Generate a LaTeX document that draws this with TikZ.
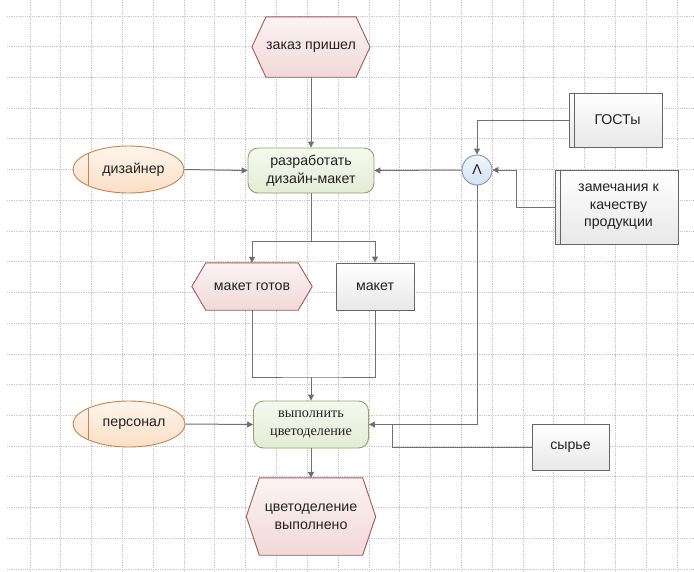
\documentclass[tikz,border=0pt]{standalone}
\usepackage{fontspec}
\setmainfont{Liberation Sans}
\newfontfamily\serifru{Liberation Serif}
\usetikzlibrary{arrows.meta,calc,shapes.geometric}
\pgfdeclarelayer{gridlayer}
\pgfdeclarelayer{bg}
\pgfsetlayers{gridlayer,bg,main}
\definecolor{gridc}{HTML}{C8C8C8}
\definecolor{linec}{HTML}{707070}
\definecolor{evtop}{HTML}{FCF3F3}
\definecolor{evbot}{HTML}{F2D8D8}
\definecolor{evdraw}{HTML}{A05A5A}
\definecolor{fntop}{HTML}{F6F9EF}
\definecolor{fnbot}{HTML}{E3ECD4}
\definecolor{fndraw}{HTML}{8FA46C}
\definecolor{ortop}{HTML}{FEF5EC}
\definecolor{orbot}{HTML}{FADFC6}
\definecolor{ordraw}{HTML}{C8844A}
\definecolor{intop}{HTML}{FFFFFF}
\definecolor{inbot}{HTML}{E8E8E8}
\definecolor{indraw}{HTML}{666666}
\definecolor{cirtop}{HTML}{F0F5FB}
\definecolor{cirbot}{HTML}{D5E1F1}
\definecolor{cirdraw}{HTML}{7C95B5}
\definecolor{txt}{HTML}{222222}
\begin{document}
\begin{tikzpicture}[x=1pt,y=-1pt,
  font=\fontsize{14.2}{17.5}\selectfont, text=txt,
  gridline/.style={draw=gridc, line width=0.8pt, densely dotted},
  conn/.style={draw=linec, line width=1pt},
  arr/.style={conn, -{Triangle[length=6pt,width=6pt]}},
  evtext/.style={rectangle, inner sep=0pt, align=center},
  evshape/.style={draw=evdraw, line width=0.9pt, top color=evtop, bottom color=evbot},
  fnbox/.style={rectangle, rounded corners=10pt, draw=fndraw, line width=0.9pt, top color=fntop, bottom color=fnbot, align=center, inner sep=0pt},
  orgunit/.style={ellipse, draw=ordraw, line width=0.9pt, top color=ortop, bottom color=orbot, inner sep=0pt,
    path picture={\draw[draw=ordraw, line width=1pt] ([xshift=15pt]path picture bounding box.north west) -- ([xshift=15pt]path picture bounding box.south west);}},
  infobox/.style={rectangle, draw=indraw, line width=0.9pt, top color=intop, bottom color=inbot, align=center, inner sep=0pt},
  docbox/.style={infobox,
    path picture={\draw[draw=indraw, line width=0.9pt] ([xshift=5.5pt]path picture bounding box.north west) -- ([xshift=5.5pt]path picture bounding box.south west);}},
  andop/.style={circle, draw=cirdraw, line width=0.9pt, top color=cirtop, bottom color=cirbot, minimum size=30pt, inner sep=0pt}
]
\useasboundingbox (0,0) rectangle (694,571);
\begin{pgfonlayer}{gridlayer}
\fill[white] (0,0) rectangle (694,571);
\foreach \i in {0,...,21} \draw[gridline] ({30+30.81*\i},0) -- ({30+30.81*\i},571);
\foreach \j in {0,...,18} \draw[gridline] (7,{16+30.72*\j}) -- (694,{16+30.72*\j});
\end{pgfonlayer}

% events
\node[evtext, minimum width=88pt, minimum height=60pt] (zakaz) at (311,47) {заказ пришел};
\node[evtext, minimum width=92pt, minimum height=47pt] (maketg) at (252,286.5) {макет готов};
\node[evtext, minimum width=103pt, minimum height=77pt] (done) at (311,516.5) {цветоделение\\выполнено};
\begin{pgfonlayer}{bg}
\foreach \n/\d in {zakaz/14, maketg/14, done/13}
  \draw[evshape] (\n.north west) -- (\n.north east) -- ($(\n.east)+(\d,0)$) -- (\n.south east) -- (\n.south west) -- ($(\n.west)-(\d,0)$) -- cycle;
\end{pgfonlayer}

% functions
\node[fnbox, minimum width=126pt, minimum height=45pt] (razr) at (311,170.5) {разработать\\дизайн-макет};
\node[fnbox, minimum width=115pt, minimum height=47pt, font=\serifru\fontsize{14.2}{17.5}\selectfont] (vyp) at (311,424.5) {выполнить\\цветоделение};

% org units
\node[orgunit, minimum width=111pt, minimum height=47pt] (diz) at (128.5,169.5) {\hspace*{10pt}дизайнер};
\node[orgunit, minimum width=112pt, minimum height=46pt] (pers) at (129,424) {\hspace*{10pt}персонал};

% information
\node[docbox, minimum width=93pt, minimum height=54pt] (gost) at (615.5,120) {\hspace*{4pt}ГОСТы};
\node[docbox, minimum width=123pt, minimum height=74pt] (zam) at (616.5,207) {\hspace*{4pt}замечания к\\\hspace*{4pt}качеству\\\hspace*{4pt}продукции};
\node[infobox, minimum width=78pt, minimum height=47pt] (maket) at (375,286.5) {макет};
\node[infobox, minimum width=77pt, minimum height=46pt] (syr) at (570.5,447) {сырье};

% operator
\node[andop] (and) at (477,170) {Λ};

% helper coordinates
\coordinate (split) at (311,241);
\coordinate (join) at (311,377);
\coordinate (zb) at (516,207);
\coordinate (sb) at (392,447);

% connectors
\draw[arr] (zakaz.south) -- (razr.north);
\draw[arr] (diz.east) -- (razr.west);
\draw[arr] (gost.west) -| (and.north);
\draw[arr] (zam.west) -- (zb) |- (and.east);
\draw[arr] (and.west) -- (razr.east);
\draw[conn] (razr.south) -- (split);
\draw[arr] (split) -| (maketg.north);
\draw[arr] (split) -| (maket.north);
\draw[conn] (maketg.south) |- (join) -| (maket.south);
\draw[arr] (join) -- (vyp.north);
\draw[arr] (pers.east) -- (vyp.west);
\draw[arr] (and.south) |- (vyp.east);
\draw[conn] (syr.west) -- (sb) -- (sb |- vyp.east);
\draw[arr] (vyp.south) -- (done.north);
\end{tikzpicture}
\end{document}
